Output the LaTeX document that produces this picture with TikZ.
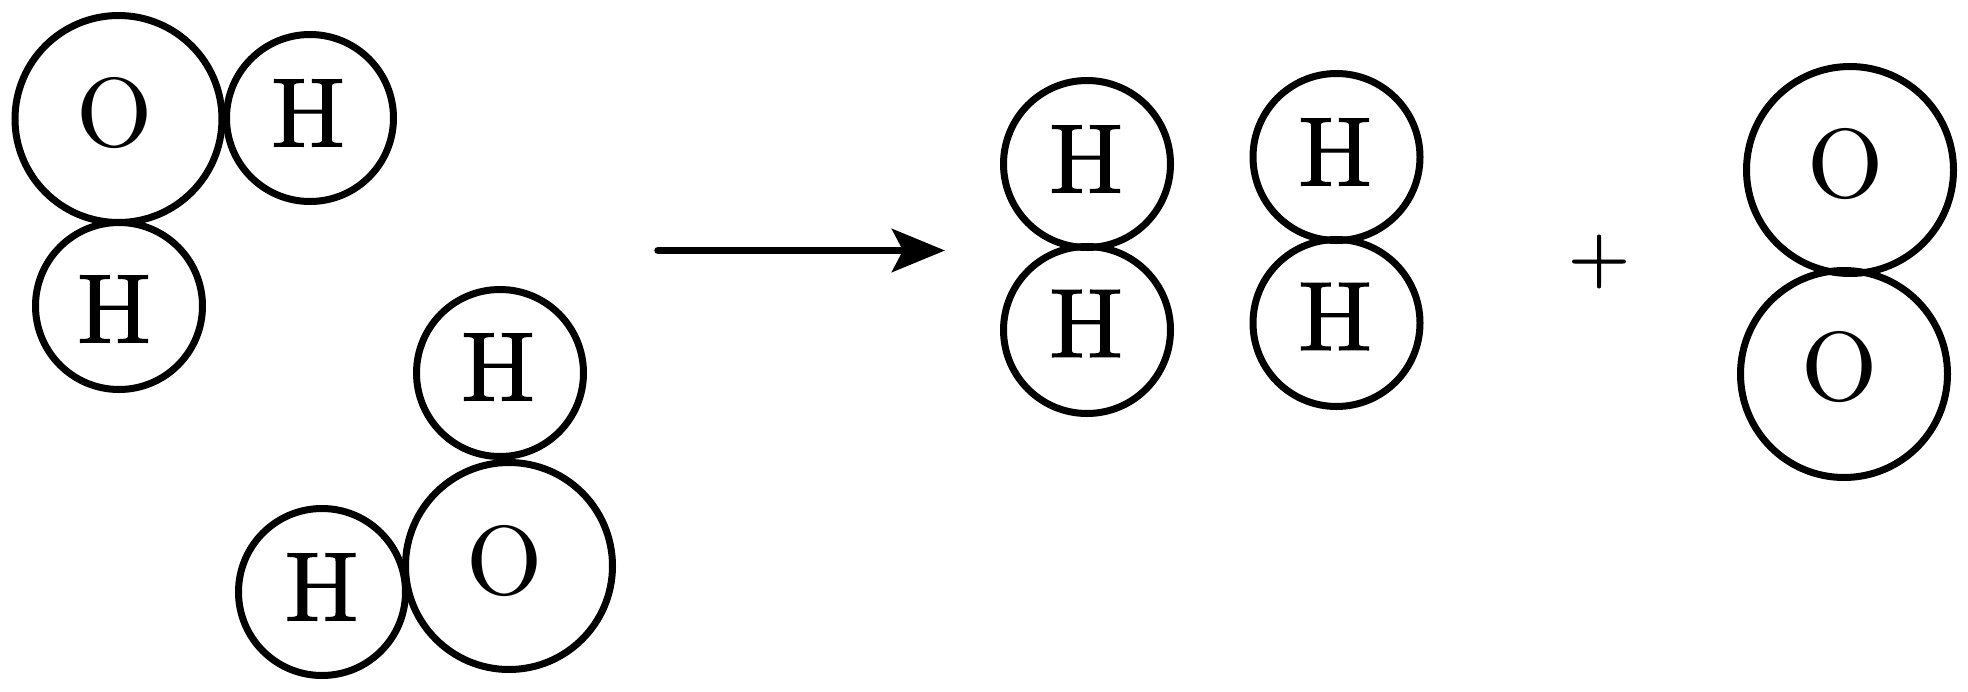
\documentclass[tikz,border=0pt]{standalone}
\usetikzlibrary{arrows.meta}
\font\lmx="[lmroman10-regular.otf]" at 98pt
\font\lmh="[lmroman10-regular.otf]:embolden=1.2" at 98pt
\font\lmp="[lmroman10-regular.otf]:embolden=1" at 80pt
\tikzset{
  x=1pt,y=-1pt,
  ring/.style={draw=black,circle,line width=7pt,inner sep=0pt,outer sep=0pt},
  big/.style={ring,minimum size=207pt},
  small/.style={ring,minimum size=167pt},
  symo/.style={inner sep=0pt,outer sep=0pt,font=\lmx},
  symh/.style={inner sep=0pt,outer sep=0pt,font=\lmh},
  link/.style={line width=7.5pt,line cap=round,-{Stealth[length=53pt,width=43pt,inset=11pt]}}
}
\begin{document}
\begin{tikzpicture}
\useasboundingbox (0,0) rectangle (1968,691);
% first water
\node[big] (o1) at (118.5,119) {};
\node[small] (h1) at (310,118) {};
\node[small] (h2) at (119,306) {};
\node[symo] (to1) at (114.5,113) {O};
\node[symh] (th1) at (308,113) {H};
\node[symh] (th2) at (114,309) {H};
% second water
\node[small] (h3) at (500,373) {};
\node[big] (o2) at (509,566) {};
\node[small] (h4) at (322,592) {};
\node[symh] (th3) at (498,367) {H};
\node[symo] (to2) at (505,561) {O};
\node[symh] (th4) at (321.5,587) {H};
% arrow
\coordinate (as) at (658,250.5);
\coordinate (ae) at (945,250.5);
\draw[link] (as) -- (ae);
% hydrogen molecules
\node[small] (h5) at (1087,164) {};
\node[small] (h6) at (1087,330) {};
\node[small] (h7) at (1336.5,157) {};
\node[small] (h8) at (1336.5,323) {};
\node[symh] (th5) at (1086,159) {H};
\node[symh] (th6) at (1086,323.5) {H};
\node[symh] (th7) at (1335,152) {H};
\node[symh] (th8) at (1335,316.5) {H};
% plus
\node[inner sep=0pt,outer sep=0pt,font=\lmp] (plus) at (1599,261.5) {+};
% oxygen molecule
\node[big] (o3) at (1850,170) {};
\node[big] (o4) at (1844,374) {};
\node[symo] (to3) at (1846,164) {O};
\node[symo] (to4) at (1840,367) {O};
\end{tikzpicture}
\end{document}
